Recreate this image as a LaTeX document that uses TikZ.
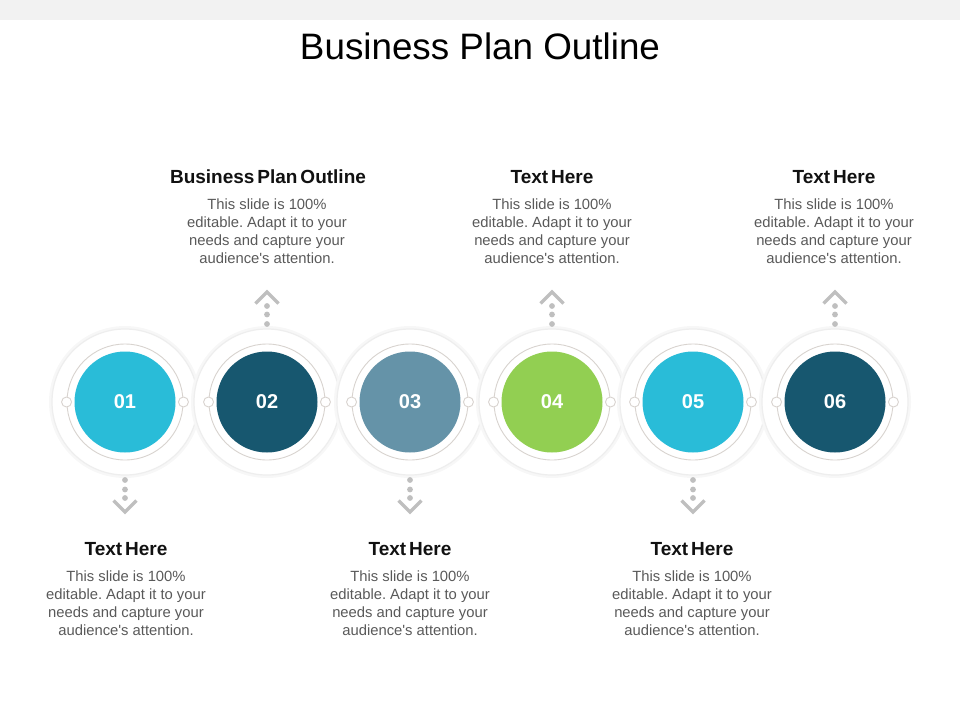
\documentclass[tikz,border=0pt]{standalone}
\usepackage{fontspec}
\setmainfont{Liberation Sans}
\newfontfamily\headfont[WordSpace=0.55]{Liberation Sans}
\definecolor{bandc}{HTML}{F2F2F2}
\definecolor{cyanc}{HTML}{29BCD8}
\definecolor{darkc}{HTML}{17576F}
\definecolor{slatec}{HTML}{6593A8}
\definecolor{greenc}{HTML}{92CF52}
\definecolor{ringc}{HTML}{D8D3CF}
\definecolor{arrowc}{HTML}{BFBFBF}
\definecolor{bodyc}{HTML}{595959}
\definecolor{headc}{HTML}{111111}
\definecolor{shadowA}{HTML}{F7F7F7}
\definecolor{shadowB}{HTML}{EEEEEE}
\frenchspacing
\newcommand{\bodytext}{This slide is 100\%\\editable. Adapt it to your\\needs and capture your\\audience\textquotesingle s attention.}
\begin{document}
\begin{tikzpicture}[x=1pt,y=-1pt,
  titlestyle/.style={anchor=base,inner sep=0pt,font=\fontsize{36.8}{40}\selectfont,text=black},
  headstyle/.style={anchor=base,inner sep=0pt,font=\headfont\bfseries\fontsize{19}{22}\selectfont,text=headc},
  bodystyle/.style={anchor=north,inner sep=0pt,align=center,font=\fontsize{14.8}{17.9}\selectfont,text=bodyc},
  outerdisk/.style={circle,inner sep=0pt,minimum size=146pt,fill=white,draw=shadowB,line width=1.2pt},
  ringstyle/.style={circle,inner sep=0pt,minimum size=116pt,draw=ringc,line width=0.9pt},
  knob/.style={circle,inner sep=0pt,minimum size=10pt,fill=white,draw=ringc,line width=0.9pt},
  numdisk/.style={circle,inner sep=0pt,minimum size=101pt,text=white,font=\bfseries\fontsize{20}{24}\selectfont},
  chev/.style={draw=arrowc,line width=3.3pt},
  arrdot/.style={circle,inner sep=0pt,minimum size=5.8pt,fill=arrowc}
]
\useasboundingbox (0,0) rectangle (960,720);
\fill[bandc] (0,0) rectangle (960,20);
\node[titlestyle] (title) at (480,59) {Business Plan Outline};

\foreach \i/\x/\col in {1/125/cyanc,2/267/darkc,3/410/slatec,4/552/greenc,5/693/cyanc,6/835/darkc}{
  \draw[shadowA,line width=3pt] (\x,402) circle (74.5);
  \node[outerdisk] (o\i) at (\x,402) {};
  \node[ringstyle] (r\i) at (\x,402) {};
  \node[knob] (kl\i) at (r\i.west) {};
  \node[knob] (kr\i) at (r\i.east) {};
  \node[numdisk,fill=\col] (c\i) at (\x,402) {0\i};
}

% up arrows (02, 04, 06)
\foreach \i in {2,4,6}{
  \coordinate (ua\i) at ([yshift=110pt]c\i.center);
  \coordinate (ul\i) at ([xshift=-11.5pt,yshift=98.5pt]c\i.center);
  \coordinate (ur\i) at ([xshift=11.5pt,yshift=98.5pt]c\i.center);
  \draw[chev] (ul\i) -- (ua\i) -- (ur\i);
  \node[arrdot] (ud1\i) at ([yshift=96pt]c\i.center) {};
  \node[arrdot] (ud2\i) at ([yshift=87.5pt]c\i.center) {};
  \node[arrdot] (ud3\i) at ([yshift=78pt]c\i.center) {};
}
% down arrows (01, 03, 05)
\foreach \i in {1,3,5}{
  \coordinate (da\i) at ([yshift=-110pt]c\i.center);
  \coordinate (dl\i) at ([xshift=-11.5pt,yshift=-98.5pt]c\i.center);
  \coordinate (dr\i) at ([xshift=11.5pt,yshift=-98.5pt]c\i.center);
  \draw[chev] (dl\i) -- (da\i) -- (dr\i);
  \node[arrdot] (dd1\i) at ([yshift=-96pt]c\i.center) {};
  \node[arrdot] (dd2\i) at ([yshift=-87.5pt]c\i.center) {};
  \node[arrdot] (dd3\i) at ([yshift=-78pt]c\i.center) {};
}

% top texts
\node[headstyle] (h2) at (268,183) {Business Plan Outline};
\node[bodystyle] (b2) at (267,199) {\bodytext};
\node[headstyle] (h4) at (552,183) {Text Here};
\node[bodystyle] (b4) at (552,199) {\bodytext};
\node[headstyle] (h6) at (834,183) {Text Here};
\node[bodystyle] (b6) at (834,199) {\bodytext};
% bottom texts
\node[headstyle] (h1) at (126,555) {Text Here};
\node[bodystyle] (b1) at (126,571) {\bodytext};
\node[headstyle] (h3) at (410,555) {Text Here};
\node[bodystyle] (b3) at (410,571) {\bodytext};
\node[headstyle] (h5) at (692,555) {Text Here};
\node[bodystyle] (b5) at (692,571) {\bodytext};
\end{tikzpicture}
\end{document}
